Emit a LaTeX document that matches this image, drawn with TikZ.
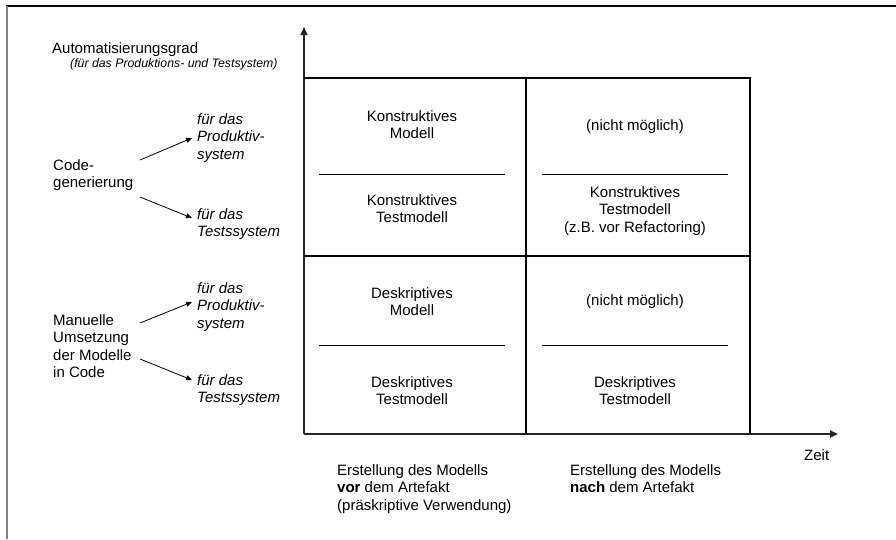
\documentclass[tikz,border=0pt]{standalone}
\usepackage{fontspec}
\setmainfont{Liberation Sans}
\usetikzlibrary{arrows.meta}

\tikzset{
  txt/.style={inner sep=0pt, font=\fontsize{15}{17.5}\selectfont},
  ltxt/.style={txt, align=left, anchor=north west},
  ctxt/.style={txt, align=center, anchor=north},
  itxt/.style={ltxt, font=\fontsize{15}{17.5}\selectfont\itshape},
  grid/.style={line width=1.6pt, black},
  axis/.style={line width=1.7pt, black!85, -{Triangle[length=8pt,width=7pt]}},
  sep/.style={line width=0.8pt, black},
  pointer/.style={line width=0.8pt, black, -{Triangle[length=6pt,width=5pt]}},
}

\begin{document}
\begin{tikzpicture}[x=1pt, y=-1pt]
  \useasboundingbox (0,0) rectangle (896,539);

  % outer frame (top and left edge only)
  \draw[line width=1.3pt, black] (6,6) -- (896,6);
  \draw[line width=2pt, black!50] (6.5,6) -- (6.5,539);

  % axes
  \coordinate (O) at (304,434);
  \coordinate (ytip) at (304,27);
  \coordinate (xtip) at (838,434);
  \draw[axis] (O) -- (ytip);
  \draw[axis] (O) -- (xtip);

  % 2x2 grid
  \coordinate (tl) at (304,78);
  \coordinate (tr) at (750,78);
  \coordinate (ml) at (304,256);
  \coordinate (mr) at (750,256);
  \coordinate (tm) at (526,78);
  \coordinate (bm) at (526,434);
  \coordinate (br) at (750,434);
  \draw[grid] (tl) -- (tr) -- (br);
  \draw[grid] (ml) -- (mr);
  \draw[grid] (tm) -- (bm);

  % separators inside the cells
  \draw[sep] (319,174) -- (505,174);
  \draw[sep] (542,174) -- (728,174);
  \draw[sep] (319,345) -- (505,345);
  \draw[sep] (542,345) -- (728,345);

  % cell contents
  \node[ctxt] (kmod)  at (412,110) {Konstruktives\\Modell};
  \node[ctxt] (ktest) at (412,194) {Konstruktives\\Testmodell};
  \node[ctxt] (nm1)   at (635,119) {(nicht möglich)};
  \node[ctxt] (ktest2) at (635,186) {Konstruktives\\Testmodell\\(z.B. vor Refactoring)};
  \node[ctxt] (dmod)  at (412,287) {Deskriptives\\Modell};
  \node[ctxt] (dtest) at (412,376) {Deskriptives\\Testmodell};
  \node[ctxt] (nm2)   at (635,294) {(nicht möglich)};
  \node[ctxt] (dtest2) at (635,376) {Deskriptives\\Testmodell};

  % y-axis title
  \node[ltxt] (auto) at (52,42) {Automatisierungsgrad};
  \node[ltxt, font=\fontsize{12.3}{14}\selectfont\itshape] (autosub) at (70,58)
    {(für das Produktions- und Testsystem)};

  % code generation branch
  \node[ltxt] (codegen) at (53,159) {Code-\\generierung};
  \node[itxt] (cgprod) at (197,113) {für das\\Produktiv-\\system};
  \node[itxt] (cgtest) at (197,208) {für das\\Testssystem};
  \coordinate (cg1s) at (140,160);
  \coordinate (cg1e) at (192,138);
  \coordinate (cg2s) at (140,197);
  \coordinate (cg2e) at (192,218);
  \draw[pointer] (cg1s) -- (cg1e);
  \draw[pointer] (cg2s) -- (cg2e);

  % manual implementation branch
  \node[ltxt] (manual) at (53,314) {Manuelle\\Umsetzung\\der Modelle\\in Code};
  \node[itxt] (mprod) at (197,282) {für das\\Produktiv-\\system};
  \node[itxt] (mtest) at (197,374) {für das\\Testssystem};
  \coordinate (m1s) at (140,323);
  \coordinate (m1e) at (192,302);
  \coordinate (m2s) at (140,359);
  \coordinate (m2e) at (192,380);
  \draw[pointer] (m1s) -- (m1e);
  \draw[pointer] (m2s) -- (m2e);

  % x-axis labels
  \node[ltxt] (zeit) at (804,449) {Zeit};
  \node[ltxt] (vor) at (337,464)
    {Erstellung des Modells\\\textbf{vor} dem Artefakt\\(präskriptive Verwendung)};
  \node[ltxt] (nach) at (570,464)
    {Erstellung des Modells\\\textbf{nach} dem Artefakt};
\end{tikzpicture}
\end{document}
